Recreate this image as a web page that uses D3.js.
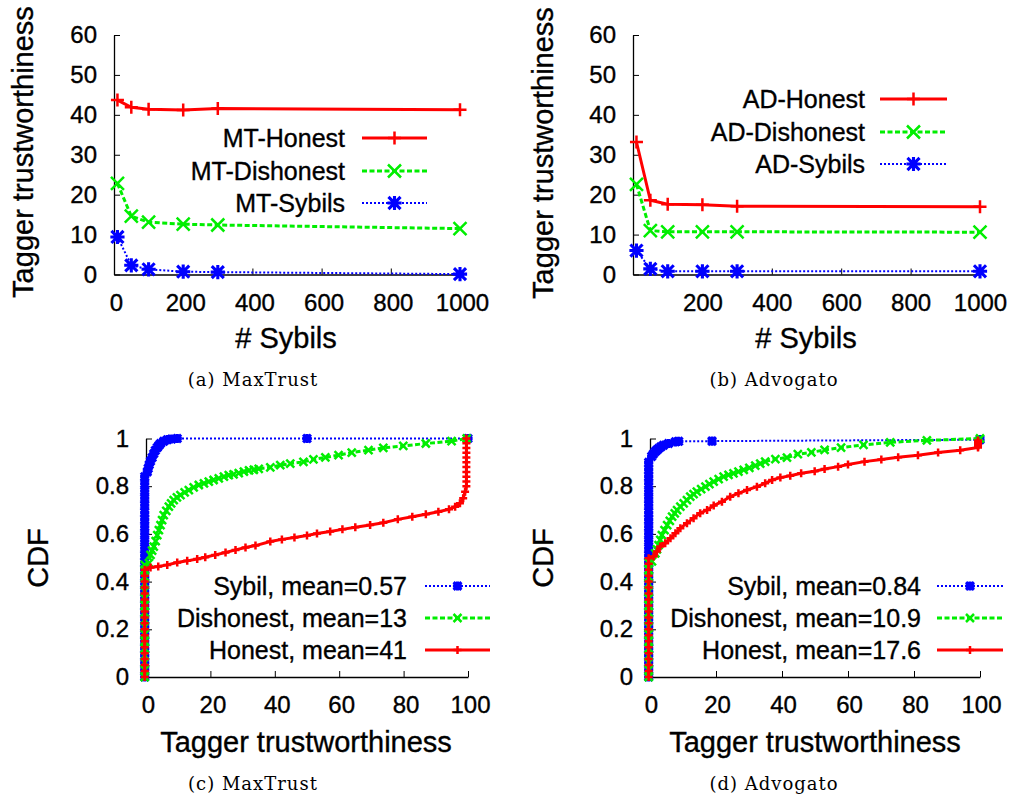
<!DOCTYPE html>
<html>
<head>
<meta charset="utf-8">
<script src="https://cdn.jsdelivr.net/npm/d3@7"></script>
<style>
  html, body { margin: 0; padding: 0; background: #fff; }
</style>
</head>
<body>
<script>
'use strict';

// --- data ---
const sybilCounts = [10, 50, 100, 200, 300, 1000];

const mtHonest = [43.7, 41.9, 41.4, 41.2, 41.6, 41.3];
const mtDishonest = [22.8, 14.6, 13.1, 12.6, 12.4, 11.5];
const mtSybils = [9.4, 2.3, 1.3, 0.7, 0.6, 0.1];

const adHonest = [33.2, 18.6, 17.6, 17.5, 17.1, 17.0];
const adDishonest = [22.6, 11.0, 10.7, 10.7, 10.7, 10.6];
const adSybils = [6.0, 1.4, 0.8, 0.8, 0.8, 0.8];

// CDF curves: [trustworthiness, cdf]. Many taggers sit at ~0, which shows as a
// dense column of points near x = 0.
const mtSybilZero = [0, 0.03, 0.06, 0.09, 0.12, 0.15, 0.18, 0.21, 0.24, 0.27, 0.3, 0.33, 0.36, 0.39,
  0.42, 0.45, 0.48, 0.51, 0.54, 0.57, 0.6, 0.63, 0.66, 0.69, 0.72, 0.75, 0.78, 0.81, 0.84];
const mtSybilCdf = mtSybilZero.map(v => [-0.4, v]).concat([
  [0.4, 0.86], [0.7, 0.875], [1.0, 0.89], [1.4, 0.905], [1.9, 0.92], [2.4, 0.936], [2.9, 0.95],
  [3.5, 0.962], [4.0, 0.971], [4.5, 0.979], [5.5, 0.988], [6.6, 0.995], [8.0, 0.998], [9.7, 1.0],
  [50, 1.0], [100, 1.0]]);

const mtDishonestZero = [0, 0.03, 0.06, 0.09, 0.12, 0.15, 0.18, 0.21, 0.24, 0.27, 0.3, 0.33, 0.36,
  0.39, 0.42, 0.45, 0.47];
const mtDishonestCdf = mtDishonestZero.map(v => [-0.4, v]).concat([
  [0.9, 0.477], [1.4, 0.512], [1.9, 0.53], [2.4, 0.547], [3.0, 0.57], [3.5, 0.595], [4.0, 0.616],
  [4.5, 0.637], [5.0, 0.658], [5.5, 0.679], [6.3, 0.697], [7.1, 0.714], [7.8, 0.728], [8.6, 0.742],
  [9.6, 0.753], [10.7, 0.763], [12.0, 0.774], [13.3, 0.784], [14.8, 0.795], [16.4, 0.805], [18.0, 0.812],
  [19.5, 0.819], [21.0, 0.826], [22.6, 0.833], [24.2, 0.84], [25.7, 0.846], [27.2, 0.85], [28.8, 0.855],
  [30.4, 0.861], [32.0, 0.866], [33.5, 0.869], [35.0, 0.873], [38.6, 0.879], [41.7, 0.888], [44.8, 0.895],
  [48.9, 0.902], [52.0, 0.912], [55.7, 0.921], [59.8, 0.93], [63.9, 0.941], [69.1, 0.951], [73.7, 0.961],
  [79.9, 0.969], [86.9, 0.979], [94.9, 0.989], [99.6, 1.0]]);

const mtHonestZero = [0, 0.025, 0.05, 0.075, 0.1, 0.125, 0.15, 0.175, 0.2, 0.225, 0.25, 0.275, 0.3,
  0.325, 0.35, 0.375, 0.4, 0.425, 0.45];
const mtHonestTop = [0.8, 0.82, 0.84, 0.86, 0.88, 0.9, 0.92, 0.94, 0.96, 0.98, 1.0];
const mtHonestCdf = mtHonestZero.map(v => [-0.4, v]).concat([
  [1.4, 0.459], [3.8, 0.463], [6.6, 0.47], [9.7, 0.48], [12.8, 0.487], [15.9, 0.495], [18.4, 0.502],
  [21.5, 0.512], [24.7, 0.522], [27.8, 0.533], [30.9, 0.543], [34.0, 0.551], [38.6, 0.568], [42.2, 0.577],
  [46.1, 0.585], [50.0, 0.593], [53.1, 0.602], [57.2, 0.61], [61.0, 0.619], [65.0, 0.628], [69.6, 0.637],
  [73.7, 0.647], [78.2, 0.661], [82.7, 0.672], [86.9, 0.682], [90.8, 0.693], [94.1, 0.703], [96.0, 0.714],
  [97.5, 0.728], [98.5, 0.749], [99.1, 0.777]], mtHonestTop.map(v => [99.5, v]));

const adSybilZero = [0, 0.03, 0.06, 0.09, 0.12, 0.15, 0.18, 0.21, 0.24, 0.27, 0.3, 0.33, 0.36, 0.39,
  0.42, 0.45, 0.48, 0.51, 0.54, 0.57, 0.6, 0.63, 0.66, 0.69, 0.72, 0.75, 0.78, 0.81, 0.84, 0.87, 0.9];
const adSybilCdf = adSybilZero.map(v => [-0.4, v]).concat([
  [0.5, 0.925], [1.0, 0.935], [1.6, 0.945], [2.1, 0.952], [2.6, 0.958], [3.3, 0.965], [4.1, 0.972],
  [5.6, 0.979], [7.7, 0.986], [8.7, 0.988], [18.8, 0.989], [100, 0.995]]);

const adDishonestZero = [0, 0.03, 0.06, 0.09, 0.12, 0.15, 0.18, 0.21, 0.24, 0.27, 0.3, 0.33, 0.36,
  0.39, 0.42, 0.45, 0.48];
const adDishonestCdf = adDishonestZero.map(v => [-0.4, v]).concat([
  [0.6, 0.485], [1.6, 0.518], [2.1, 0.535], [2.6, 0.553], [3.1, 0.575], [3.6, 0.595], [4.4, 0.616],
  [5.2, 0.637], [6.0, 0.655], [6.7, 0.672], [7.5, 0.686], [8.2, 0.7], [9.2, 0.714], [10.2, 0.728],
  [11.2, 0.742], [12.2, 0.756], [13.2, 0.767], [14.2, 0.777], [15.5, 0.788], [16.8, 0.798], [18.0, 0.809],
  [19.3, 0.819], [20.8, 0.83], [22.3, 0.84], [23.8, 0.847], [25.3, 0.854], [26.8, 0.861], [28.4, 0.868],
  [30.1, 0.877], [31.9, 0.886], [33.4, 0.895], [34.9, 0.903], [38.0, 0.914], [41.5, 0.92], [44.8, 0.934],
  [48.9, 0.942], [52.9, 0.952], [57.9, 0.962], [64.7, 0.973], [72.8, 0.984], [83.9, 0.992], [100, 1.0]]);

const adHonestZero = [0, 0.025, 0.05, 0.075, 0.1, 0.125, 0.15, 0.175, 0.2, 0.225, 0.25, 0.275, 0.3,
  0.325, 0.35, 0.375, 0.4, 0.425, 0.45, 0.475, 0.498];
const adHonestTop = [0.962, 0.968, 0.974, 0.98, 0.986, 0.992];
const adHonestCdf = adHonestZero.map(v => [-0.4, v]).concat([
  [1.1, 0.505], [2.1, 0.526], [3.1, 0.547], [4.6, 0.561], [6.2, 0.582], [7.7, 0.603], [9.2, 0.624],
  [11.2, 0.645], [13.2, 0.666], [15.2, 0.687], [17.3, 0.7], [19.3, 0.719], [21.8, 0.735], [24.3, 0.756],
  [26.8, 0.77], [29.4, 0.784], [32.4, 0.798], [34.9, 0.812], [37.0, 0.826], [39.5, 0.836], [42.5, 0.844],
  [45.8, 0.854], [49.9, 0.863], [52.9, 0.872], [57.0, 0.882], [60.0, 0.891], [65.0, 0.903], [70.1, 0.912],
  [75.2, 0.921], [81.2, 0.93], [87.3, 0.941], [94.0, 0.951]], adHonestTop.map(v => [99.4, v]));

// tick values
const sybilTicksMT = [0, 200, 400, 600, 800, 1000];
const sybilTicksAD = [200, 400, 600, 800, 1000];
const trustTicks = [0, 10, 20, 30, 40, 50, 60];
const cdfXTicks = [0, 20, 40, 60, 80, 100];
const cdfYTicks = [0, 0.2, 0.4, 0.6, 0.8, 1];

// legend labels
const mtLabels = ['MT-Honest', 'MT-Dishonest', 'MT-Sybils'];
const adLabels = ['AD-Honest', 'AD-Dishonest', 'AD-Sybils'];
const mtCdfLabels = ['Sybil, mean=0.57', 'Dishonest, mean=13', 'Honest, mean=41'];
const adCdfLabels = ['Sybil, mean=0.84', 'Dishonest, mean=10.9', 'Honest, mean=17.6'];

// --- styles ---
const SANS = '"Liberation Sans", Arial, Helvetica, sans-serif';
const SERIF = '"DejaVu Serif", "Liberation Serif", serif';
const RED = '#ff0000';
const GREEN = '#00ee00';
const BLUE = '#0000ff';

const honestStyle = { color: RED, dash: null, width: 3, marker: 'plus', markBoost: 0 };
const dishonestStyle = { color: GREEN, dash: '5,2.5', width: 3, marker: 'cross', markBoost: 0 };
const sybilStyle = { color: BLUE, dash: '2,2', width: 2, marker: 'star', markBoost: 0.6 };

const zip = (xs, ys) => xs.map((x, i) => [x, ys[i]]);

function markerPath(type, r) {
  const plus = `M${-r},0H${r}M0,${-r}V${r}`;
  const d = r * 0.85;
  if (type === 'plus') return plus;
  if (type === 'cross') return `M${-r},${-r}L${r},${r}M${-r},${r}L${r},${-r}`;
  return plus + `M${-d},${-d}L${d},${d}M${-d},${d}L${d},${-d}`;
}

const panels = [
  {
    left: 114, right: 460, top: 35, bottom: 274.5,
    xDomain: [0, 1000], yDomain: [0, 60], xTicks: sybilTicksMT, yTicks: trustTicks, xLabelShift: 2,
    xTitle: '# Sybils', xTitlePos: [286, 348], yTitle: 'Tagger trustworthiness', yTitlePos: [33, 152],
    caption: '(a) MaxTrust', captionPos: [253, 386], markR: 6.5, markW: 2.5,
    series: [
      Object.assign({ points: zip(sybilCounts, mtHonest), label: mtLabels[0] }, honestStyle),
      Object.assign({ points: zip(sybilCounts, mtDishonest), label: mtLabels[1] }, dishonestStyle),
      Object.assign({ points: zip(sybilCounts, mtSybils), label: mtLabels[2] }, sybilStyle)
    ],
    legend: { textX: 345, lineX1: 362, lineX2: 427, rows: [138, 171, 203] }
  },
  {
    left: 633, right: 980, top: 35, bottom: 274.5,
    xDomain: [0, 1000], yDomain: [0, 60], xTicks: sybilTicksAD, yTicks: trustTicks, xLabelShift: 0,
    xTitle: '# Sybils', xTitlePos: [806, 348], yTitle: 'Tagger trustworthiness', yTitlePos: [553, 153],
    caption: '(b) Advogato', captionPos: [774, 386], markR: 6.5, markW: 2.5,
    series: [
      Object.assign({ points: zip(sybilCounts, adHonest), label: adLabels[0] }, honestStyle),
      Object.assign({ points: zip(sybilCounts, adDishonest), label: adLabels[1] }, dishonestStyle),
      Object.assign({ points: zip(sybilCounts, adSybils), label: adLabels[2] }, sybilStyle)
    ],
    legend: { textX: 865, lineX1: 880, lineX2: 947, rows: [99, 132, 164] }
  },
  {
    left: 146, right: 468, top: 438.5, bottom: 677,
    xDomain: [0, 100], yDomain: [0, 1], xTicks: cdfXTicks, yTicks: cdfYTicks, xLabelShift: 2,
    xTitle: 'Tagger trustworthiness', xTitlePos: [306, 752], yTitle: 'CDF', yTitlePos: [48, 558],
    caption: '(c) MaxTrust', captionPos: [253, 790], markR: 4, markW: 2.5,
    series: [
      Object.assign({ points: mtSybilCdf, label: mtCdfLabels[0] }, sybilStyle),
      Object.assign({ points: mtDishonestCdf, label: mtCdfLabels[1] }, dishonestStyle),
      Object.assign({ points: mtHonestCdf, label: mtCdfLabels[2] }, honestStyle)
    ],
    legend: { textX: 407, lineX1: 425, lineX2: 490, rows: [586, 618, 650] }
  },
  {
    left: 650, right: 980, top: 438.5, bottom: 677,
    xDomain: [0, 100], yDomain: [0, 1], xTicks: cdfXTicks, yTicks: cdfYTicks, xLabelShift: 1,
    xTitle: 'Tagger trustworthiness', xTitlePos: [815, 752], yTitle: 'CDF', yTitlePos: [553, 558],
    caption: '(d) Advogato', captionPos: [774, 790], markR: 4, markW: 2.5,
    series: [
      Object.assign({ points: adSybilCdf, label: adCdfLabels[0] }, sybilStyle),
      Object.assign({ points: adDishonestCdf, label: adCdfLabels[1] }, dishonestStyle),
      Object.assign({ points: adHonestCdf, label: adCdfLabels[2] }, honestStyle)
    ],
    legend: { textX: 921, lineX1: 937, lineX2: 1003, rows: [586, 618, 650] }
  }
];

const svg = d3.select('body').append('svg')
  .attr('width', 1011)
  .attr('height', 797)
  .style('display', 'block');

function drawMarker(sel, s, p) {
  sel.attr('d', markerPath(s.marker, p.markR + s.markBoost))
    .attr('fill', 'none')
    .attr('stroke', s.color)
    .attr('stroke-width', p.markW + s.markBoost);
}

function drawPanel(p) {
  const g = svg.append('g');
  const x = d3.scaleLinear().domain(p.xDomain).range([p.left, p.right]);
  const y = d3.scaleLinear().domain(p.yDomain).range([p.bottom, p.top]);

  // Axes: only left and bottom borders, ticks pointing inward.
  const yAxis = g.append('g')
    .attr('transform', `translate(${p.left},0)`)
    .call(d3.axisLeft(y).tickValues(p.yTicks).tickFormat(d => String(d))
      .tickSizeInner(-6).tickSizeOuter(0).tickPadding(17));
  const xAxis = g.append('g')
    .attr('transform', `translate(0,${p.bottom})`)
    .call(d3.axisBottom(x).tickValues(p.xTicks).tickFormat(d => String(d))
      .tickSizeInner(-6).tickSizeOuter(0));

  [yAxis, xAxis].forEach(a => {
    a.attr('font-family', SANS).attr('font-size', 24);
    a.select('.domain').attr('stroke', '#000').attr('stroke-width', 1.3);
    a.selectAll('.tick line').attr('stroke', '#000').attr('stroke-width', 1);
    a.selectAll('.tick text').attr('fill', '#000');
  });
  xAxis.selectAll('.tick text').attr('dy', null).attr('y', 36).attr('x', p.xLabelShift);

  const line = d3.line().x(d => x(d[0])).y(d => y(d[1]));

  p.series.forEach(s => {
    g.append('path')
      .datum(s.points)
      .attr('d', line)
      .attr('fill', 'none')
      .attr('stroke', s.color)
      .attr('stroke-width', s.width)
      .attr('stroke-dasharray', s.dash);

    g.append('g').selectAll('path')
      .data(s.points)
      .join('path')
      .attr('transform', d => `translate(${x(d[0])},${y(d[1])})`)
      .call(drawMarker, s, p);
  });

  // Legend rows follow the plotting order.
  const lg = p.legend;
  p.series.forEach((s, row) => {
    const cy = lg.rows[row];
    g.append('text')
      .attr('x', lg.textX)
      .attr('y', cy)
      .attr('dy', '0.35em')
      .attr('text-anchor', 'end')
      .attr('font-family', SANS)
      .attr('font-size', 25)
      .text(s.label);
    g.append('line')
      .attr('x1', lg.lineX1).attr('x2', lg.lineX2)
      .attr('y1', cy).attr('y2', cy)
      .attr('stroke', s.color)
      .attr('stroke-width', s.width)
      .attr('stroke-dasharray', s.dash);
    g.append('path')
      .attr('transform', `translate(${(lg.lineX1 + lg.lineX2) / 2},${cy})`)
      .call(drawMarker, s, p);
  });

  // Titles.
  g.append('text')
    .attr('x', p.xTitlePos[0])
    .attr('y', p.xTitlePos[1])
    .attr('text-anchor', 'middle')
    .attr('font-family', SANS)
    .attr('font-size', 29)
    .text(p.xTitle);
  g.append('text')
    .attr('transform', `translate(${p.yTitlePos[0]},${p.yTitlePos[1]}) rotate(-90)`)
    .attr('text-anchor', 'middle')
    .attr('font-family', SANS)
    .attr('font-size', 29)
    .text(p.yTitle);
  g.append('text')
    .classed('caption', true)
    .attr('x', p.captionPos[0])
    .attr('y', p.captionPos[1])
    .attr('text-anchor', 'middle')
    .attr('font-family', SERIF)
    .attr('font-size', 18)
    .attr('letter-spacing', '1px')
    .text(p.caption);
}

panels.forEach(drawPanel);

// The gnuplot sans text reads a little heavier than the plain font.
svg.selectAll('text:not(.caption)')
  .attr('stroke', '#000')
  .attr('stroke-width', 0.35);
</script>
</body>
</html>
